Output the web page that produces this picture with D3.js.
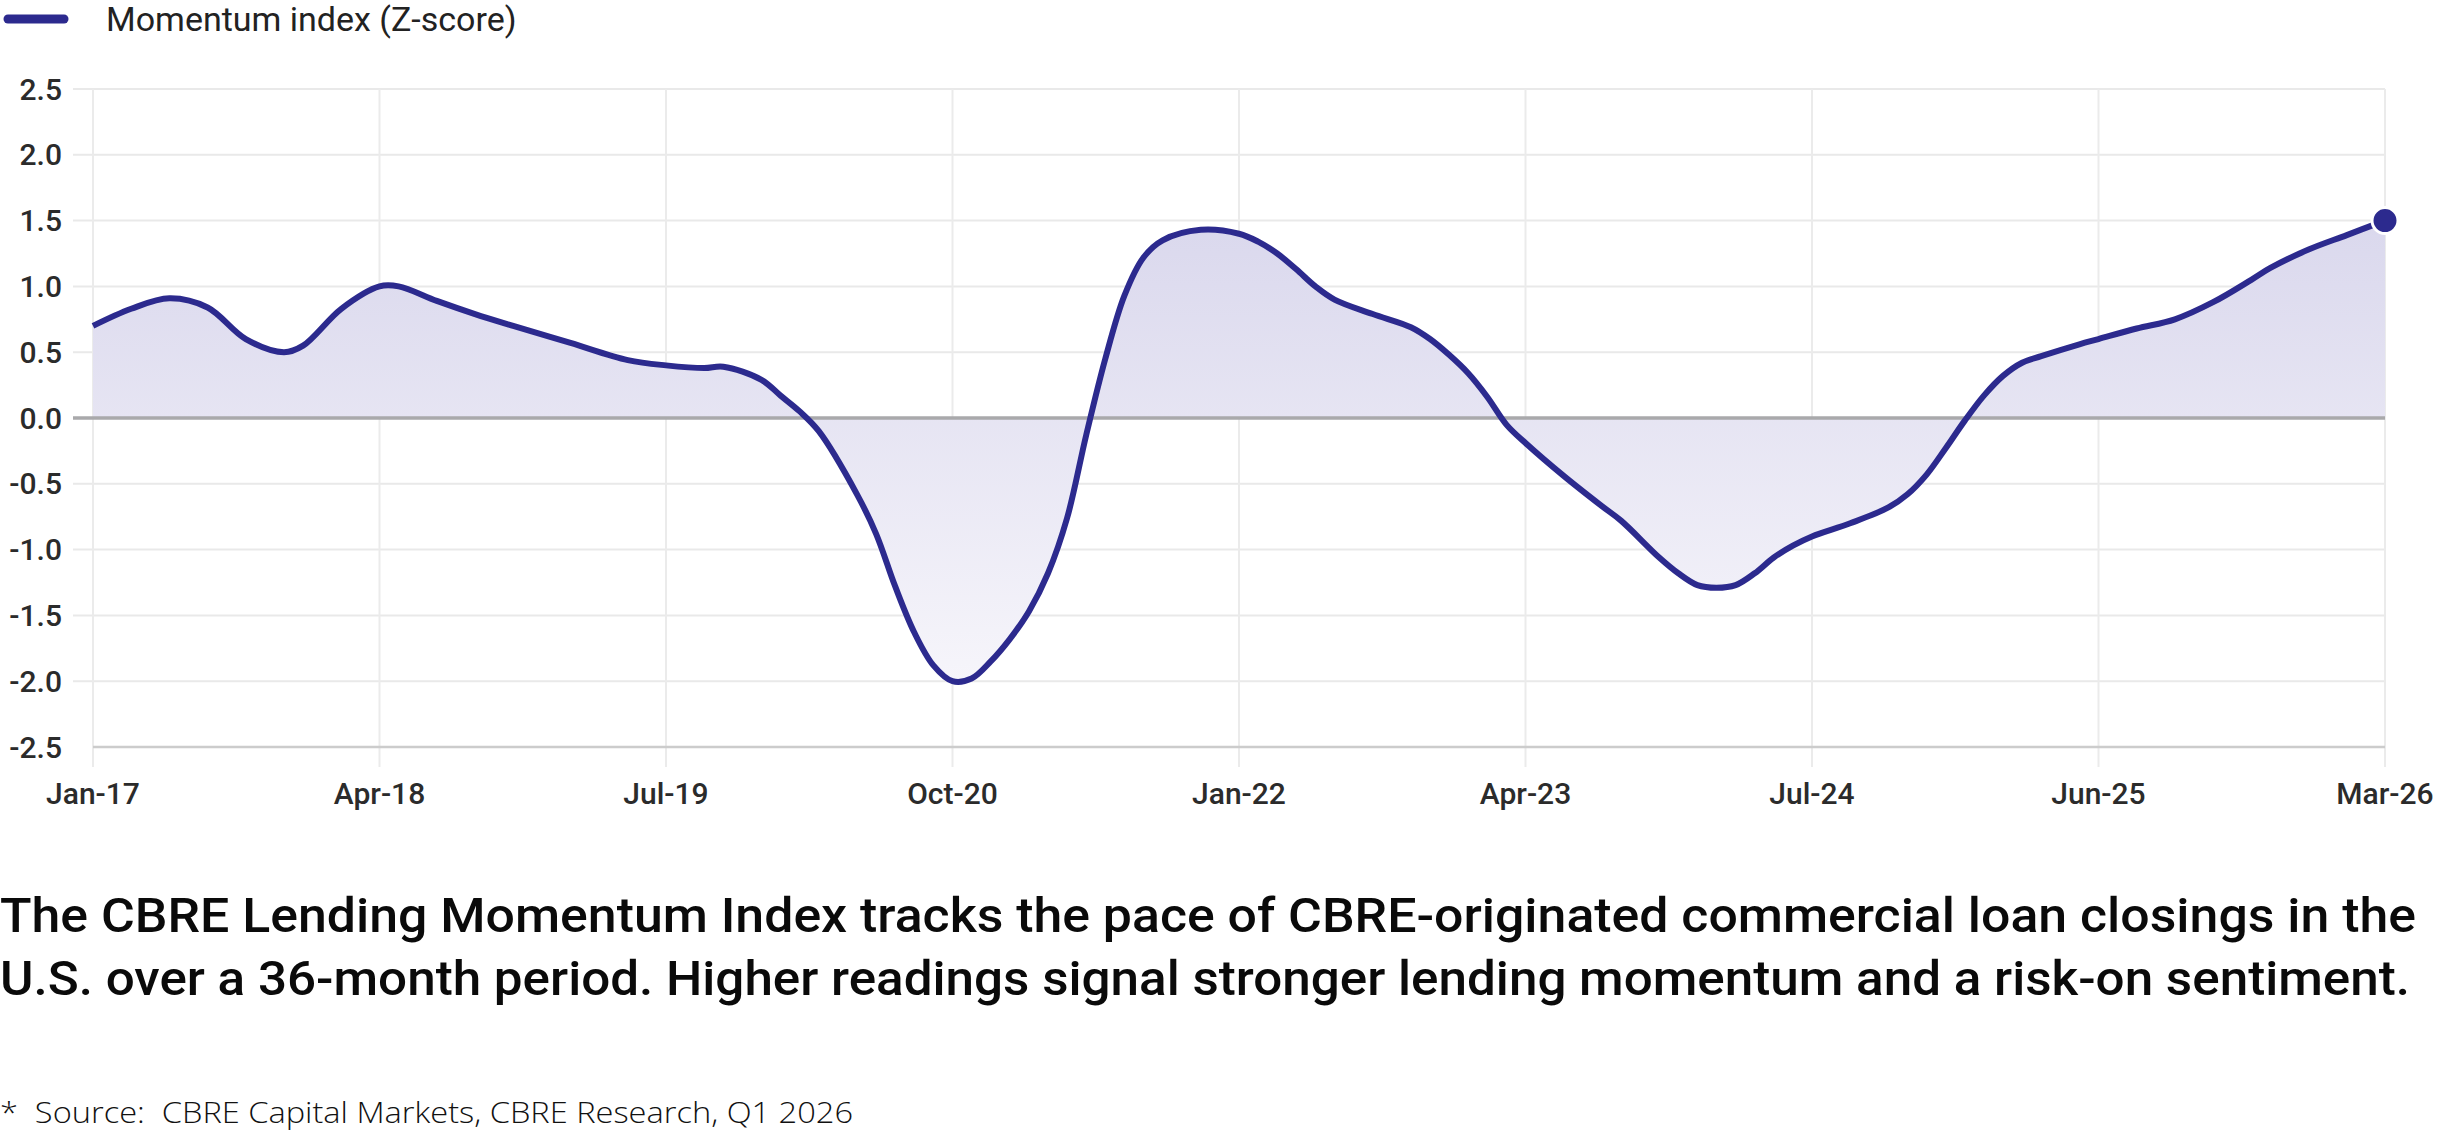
<!DOCTYPE html>
<meta charset="utf-8">
<script src="https://d3js.org/d3.v7.min.js"></script>
<style>
  body { margin: 0; background: #fff; }
  svg { display: block; }
</style>
<body>
<div id="chart"></div>

<script>

// month index counted from Jan-17 (0) to Mar-26 (120)
var monthIndex = [0, 2, 4, 6, 8, 10, 11, 13, 15, 16, 18, 20, 22, 25, 28, 30, 32, 33, 35, 36,
  37, 38, 40, 41, 42, 43, 44, 45, 46, 47, 48, 49, 50, 51, 52, 53, 54, 55, 56, 58,
  60, 61, 62, 63, 64, 65, 67, 69, 70, 71, 72, 73, 74, 75, 77, 79, 80, 82, 83, 84,
  85, 86, 87, 88, 89, 90, 92, 94, 95, 96, 97, 98, 99, 100, 101, 102, 104, 105, 107, 109,
  111, 113, 114, 116, 118, 120];
var momentum = [0.70, 0.83, 0.91, 0.84, 0.60, 0.50, 0.55, 0.83, 1.00, 1.00, 0.89, 0.79, 0.70, 0.57, 0.44, 0.40, 0.38, 0.39, 0.29, 0.17,
  0.05, -0.10, -0.58, -0.88, -1.28, -1.63, -1.88, -2.00, -1.98, -1.85, -1.68, -1.47, -1.18, -0.76, -0.13, 0.45, 0.93, 1.22, 1.35, 1.43,
  1.40, 1.34, 1.25, 1.13, 1.00, 0.90, 0.79, 0.69, 0.60, 0.48, 0.34, 0.16, -0.05, -0.19, -0.44, -0.67, -0.78, -1.06, -1.18, -1.27,
  -1.29, -1.27, -1.18, -1.06, -0.97, -0.90, -0.80, -0.68, -0.58, -0.43, -0.23, -0.02, 0.17, 0.32, 0.42, 0.47, 0.56, 0.60, 0.68, 0.75,
  0.88, 1.05, 1.14, 1.28, 1.39, 1.50];

var tickIndex = [0, 15, 30, 45, 60, 75, 90, 105, 120];
var tickLabels = ["Jan-17", "Apr-18", "Jul-19", "Oct-20", "Jan-22", "Apr-23", "Jul-24", "Jun-25", "Mar-26"];
var yTicks = [2.5, 2.0, 1.5, 1.0, 0.5, 0.0, -0.5, -1.0, -1.5, -2.0, -2.5];

var seriesName = "Momentum index (Z-score)";
var noteLines = [
  "The CBRE Lending Momentum Index tracks the pace of CBRE-originated commercial loan closings in the",
  "U.S. over a 36-month period. Higher readings signal stronger lending momentum and a risk-on sentiment."
];
var sourceText = "*  Source:  CBRE Capital Markets, CBRE Research, Q1 2026";

var data = monthIndex.map(function(m, i) { return {m: m, v: momentum[i]}; });

var W = 2441, H = 1133;
var lineColor = "#2c2a8e";

var svg = d3.select("#chart").append("svg")
  .attr("width", W)
  .attr("height", H)
  .style("font-family", "Roboto, sans-serif");

// scales
var x = d3.scaleLinear().domain([0, 120]).range([93, 2385]);
var y = d3.scaleLinear().domain([-2.5, 2.5]).range([747, 89]);

var curve = d3.curveCatmullRom.alpha(0.5);

// gradient for the area
var grad = svg.append("defs").append("linearGradient")
  .attr("id", "areaFill")
  .attr("gradientUnits", "userSpaceOnUse")
  .attr("x1", 0).attr("x2", 0)
  .attr("y1", y(1.5)).attr("y2", y(-2.1));
grad.append("stop").attr("offset", 0).attr("stop-color", "#dad8ed");
grad.append("stop").attr("offset", 1).attr("stop-color", "#f7f6fb");

// horizontal grid
svg.append("g")
  .selectAll("line")
  .data(yTicks.filter(function(d) { return d != 0 && d != -2.5; }))
  .enter().append("line")
    .attr("x1", 73).attr("x2", x(120))
    .attr("y1", function(d) { return y(d); })
    .attr("y2", function(d) { return y(d); })
    .attr("stroke", "#e9e9e9")
    .attr("stroke-width", 2);

// vertical grid
svg.append("g")
  .selectAll("line")
  .data(tickIndex)
  .enter().append("line")
    .attr("x1", function(d) { return x(d); })
    .attr("x2", function(d) { return x(d); })
    .attr("y1", y(2.5))
    .attr("y2", y(-2.5) + 20)
    .attr("stroke", "#ebebeb")
    .attr("stroke-width", 2);

// bottom axis line
svg.append("line")
  .attr("x1", x(0)).attr("x2", x(120))
  .attr("y1", y(-2.5)).attr("y2", y(-2.5))
  .attr("stroke", "#cccccc")
  .attr("stroke-width", 2.5);

// area down to zero
var area = d3.area()
  .x(function(d) { return x(d.m); })
  .y0(y(0))
  .y1(function(d) { return y(d.v); })
  .curve(curve);

svg.append("path")
  .datum(data)
  .attr("d", area)
  .attr("fill", "url(#areaFill)");

// zero line
svg.append("line")
  .attr("x1", 73).attr("x2", x(120))
  .attr("y1", y(0)).attr("y2", y(0))
  .attr("stroke", "#a9a9ab")
  .attr("stroke-width", 3.5);

// the line
var line = d3.line()
  .x(function(d) { return x(d.m); })
  .y(function(d) { return y(d.v); })
  .curve(curve);

svg.append("path")
  .datum(data)
  .attr("d", line)
  .attr("fill", "none")
  .attr("stroke", lineColor)
  .attr("stroke-width", 6)
  .attr("stroke-linejoin", "round");

// last point marker
var last = data[data.length - 1];
svg.append("circle")
  .attr("cx", x(last.m))
  .attr("cy", y(last.v))
  .attr("r", 13)
  .attr("fill", lineColor)
  .attr("stroke", "#fff")
  .attr("stroke-width", 3);

// y labels
svg.append("g")
  .selectAll("text")
  .data(yTicks)
  .enter().append("text")
    .attr("x", 62)
    .attr("y", function(d) { return y(d); })
    .attr("text-anchor", "end")
    .attr("dominant-baseline", "central")
    .style("font-size", "30px")
    .style("font-weight", 500)
    .attr("fill", "#2b2b2b")
    .text(function(d) { return d.toFixed(1); });

// x labels
svg.append("g")
  .selectAll("text")
  .data(tickIndex)
  .enter().append("text")
    .attr("x", function(d) { return x(d); })
    .attr("y", 793)
    .attr("text-anchor", "middle")
    .attr("dominant-baseline", "central")
    .style("font-size", "30px")
    .style("font-weight", 500)
    .attr("fill", "#2b2b2b")
    .text(function(d, i) { return tickLabels[i]; });

// legend
svg.append("line")
  .attr("x1", 8).attr("x2", 64)
  .attr("y1", 19).attr("y2", 19)
  .attr("stroke", lineColor)
  .attr("stroke-width", 9)
  .attr("stroke-linecap", "round");
svg.append("text")
  .attr("x", 106).attr("y", 19)
  .attr("dominant-baseline", "central")
  .style("font-size", "34px")
  .attr("fill", "#222")
  .text(seriesName);

// note under the chart
svg.append("g")
  .selectAll("text")
  .data(noteLines)
  .enter().append("text")
    .attr("x", 0)
    .attr("y", function(d, i) { return 932 + i * 63; })
    .attr("textLength", function(d, i) { return i == 0 ? 2416 : 2410; })
    .attr("lengthAdjust", "spacingAndGlyphs")
    .style("font-size", "48px")
    .style("font-weight", 500)
    .attr("fill", "#0a0a0a")
    .text(function(d) { return d; });

svg.append("text")
  .attr("x", 0).attr("y", 1123)
  .attr("textLength", 853)
  .attr("lengthAdjust", "spacingAndGlyphs")
  .style("white-space", "pre")
  .style("font-family", "'Open Sans', sans-serif")
  .style("font-size", "29px")
  .style("font-weight", 300)
  .attr("fill", "#111")
  .text(sourceText);

</script>
</body>
